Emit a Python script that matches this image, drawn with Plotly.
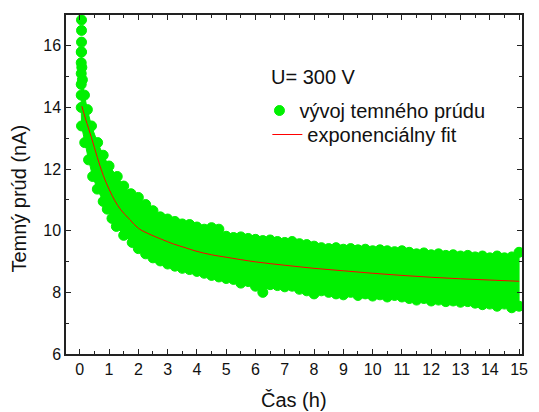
import plotly.graph_objects as go

# --- data ---
# upper / right edge of the measured point cloud (marker centres)
t_upper = [0.06, 0.07, 0.09, 0.16, 0.26, 0.40, 0.61, 0.80, 1.00, 1.28, 1.50, 1.75,
           2.00, 2.25, 2.50, 2.75, 3.00, 3.25, 3.50, 3.75, 4.00, 4.25, 4.50, 4.75,
           5.00, 5.25, 5.50, 5.75, 6.00, 6.25, 6.50, 6.75, 7.00, 7.25, 7.50, 7.75,
           8.00, 8.25, 8.50, 8.75, 9.00, 9.25, 9.50, 9.75, 10.00, 10.25, 10.50, 10.75,
           11.00, 11.25, 11.50, 11.75, 12.00, 12.25, 12.50, 12.75, 13.00, 13.25, 13.50,
           13.75, 14.00, 14.25, 14.50, 14.75, 15.00]
i_upper = [15.80, 15.30, 14.90, 14.40, 13.93, 13.40, 12.86, 12.45, 12.10, 11.76, 11.45, 11.20,
           11.08, 10.85, 10.65, 10.45, 10.38, 10.30, 10.22, 10.20, 10.12, 10.05, 10.10, 10.05,
           9.82, 9.78, 9.80, 9.75, 9.72, 9.68, 9.70, 9.65, 9.62, 9.65, 9.58, 9.55,
           9.50, 9.45, 9.42, 9.45, 9.40, 9.42, 9.38, 9.40, 9.35, 9.38, 9.35, 9.32,
           9.35, 9.30, 9.25, 9.28, 9.22, 9.25, 9.20, 9.22, 9.18, 9.20, 9.15,
           9.18, 9.12, 9.18, 9.12, 9.15, 9.30]

# lower / left edge of the measured point cloud (marker centres)
t_lower = [0.05, 0.05, 0.05, 0.05, 0.05, 0.05, 0.06, 0.17, 0.30, 0.44, 0.60, 0.80, 0.94,
           1.10, 1.25, 1.50, 1.79,
           2.00, 2.25, 2.50, 2.75, 3.00, 3.25, 3.50, 3.75, 4.00, 4.25, 4.50, 4.75,
           5.00, 5.25, 5.50, 5.75, 6.00, 6.25, 6.50, 6.75, 7.00, 7.25, 7.50, 7.75,
           8.00, 8.25, 8.50, 8.75, 9.00, 9.25, 9.50, 9.75, 10.00, 10.25, 10.50, 10.75,
           11.00, 11.25, 11.50, 11.75, 12.00, 12.25, 12.50, 12.75, 13.00, 13.25, 13.50,
           13.75, 14.00, 14.25, 14.50, 14.75, 15.00]
i_lower = [15.80, 15.45, 15.10, 14.75, 14.40, 14.00, 13.40, 12.86, 12.30, 11.76, 11.35, 10.95, 10.70,
           10.40, 10.14, 9.85, 9.62,
           9.42, 9.25, 9.12, 9.02, 8.92, 8.85, 8.78, 8.74, 8.68, 8.62, 8.55, 8.50,
           8.45, 8.42, 8.30, 8.35, 8.20, 8.00, 8.25, 8.22, 8.18, 8.20, 8.10, 8.05,
           7.95, 8.05, 8.00, 7.95, 7.92, 8.00, 7.90, 7.95, 7.88, 7.92, 7.85, 7.90,
           7.85, 7.80, 7.75, 7.80, 7.72, 7.75, 7.70, 7.72, 7.68, 7.70, 7.65,
           7.60, 7.62, 7.55, 7.62, 7.50, 7.55]

# isolated early points at the very start
t_outlier = [0.06, 0.06, 0.06]
i_outlier = [16.84, 16.50, 16.12]

# exponential fit curve
t_fit = [0.07, 0.2, 0.4, 0.6, 0.8, 1.0, 1.2, 1.4, 1.7, 2.0, 2.4, 2.8, 3.2, 3.6,
         4.0, 4.5, 5.0, 6.0, 7.0, 8.0, 9.0, 10.0, 11.0, 12.0, 13.0, 14.0, 15.0]
i_fit = [14.04, 13.62, 13.02, 12.38, 11.80, 11.35, 10.97, 10.68, 10.37, 10.08, 9.88,
         9.72, 9.57, 9.45, 9.33, 9.22, 9.14, 8.99, 8.88, 8.78, 8.70, 8.62, 8.55,
         8.49, 8.44, 8.40, 8.36]

x_ticks = list(range(0, 16))
y_ticks = [6, 8, 10, 12, 14, 16]

GREEN = "#00f000"
FONT = "Liberation Sans, Arial, sans-serif"
AXC = "#222222"
MSIZE = 10

fig = go.Figure()

# filled body of the dense point cloud
fig.add_trace(go.Scatter(
    x=t_upper + t_lower[::-1], y=i_upper + i_lower[::-1],
    mode="lines", fill="toself", fillcolor=GREEN,
    line=dict(width=1, color=GREEN), showlegend=False, hoverinfo="skip"))

mk = dict(color=GREEN, size=MSIZE, opacity=1, line=dict(width=1, color=GREEN))
fig.add_trace(go.Scatter(x=t_lower, y=i_lower, mode="markers", marker=mk,
                         showlegend=False, hoverinfo="skip"))
fig.add_trace(go.Scatter(x=t_outlier, y=i_outlier, mode="markers", marker=mk,
                         showlegend=False, hoverinfo="skip"))
fig.add_trace(go.Scatter(x=t_upper, y=i_upper, mode="markers", marker=mk,
                         name="vývoj temného prúdu", legend="legend",
                         hoverinfo="skip"))

fig.add_trace(go.Scatter(
    x=t_fit, y=i_fit, mode="lines", name="exponenciálny fit", legend="legend2",
    line=dict(color="#ff0000", width=1, shape="spline"),
    hoverinfo="skip"))

axis_common = dict(
    showline=True, linecolor=AXC, linewidth=1.5, mirror="ticks",
    ticks="inside", ticklen=5, tickwidth=1, tickcolor=AXC,
    showgrid=False, zeroline=False,
    tickfont=dict(family=FONT, size=16, color="#111"),
)

def px_x(p):
    return (p - 66) / 462

def px_y(p):
    return (354 - p) / 339

fig.update_layout(
    width=539, height=412,
    margin=dict(l=66, r=11, t=15, b=58),
    paper_bgcolor="white", plot_bgcolor="white",
    font=dict(family=FONT, color="#111"),
    xaxis=dict(range=[-0.47, 15.1], tickmode="array", tickvals=x_ticks,
               minor=dict(ticks="inside", ticklen=3, dtick=0.5, tick0=0,
                          tickcolor=AXC, showgrid=False),
               **axis_common),
    yaxis=dict(range=[6, 17.0], tickmode="array", tickvals=y_ticks,
               minor=dict(ticks="inside", ticklen=3, dtick=1, tick0=0,
                          tickcolor=AXC, showgrid=False),
               **axis_common),
    legend=dict(x=px_x(262), y=px_y(91), xanchor="left", yanchor="top",
                bgcolor="rgba(0,0,0,0)", font=dict(family=FONT, size=20),
                itemsizing="trace"),
    legend2=dict(x=px_x(270), y=px_y(115), xanchor="left", yanchor="top",
                 bgcolor="rgba(0,0,0,0)", font=dict(family=FONT, size=20)),
    annotations=[
        dict(text="U= 300 V", xref="paper", yref="paper",
             x=px_x(272), y=px_y(77), xanchor="left", yanchor="middle",
             showarrow=False, font=dict(family=FONT, size=20, color="#111")),
        dict(text="Čas (h)", xref="paper", yref="paper",
             x=px_x(297), y=px_y(400), xanchor="center", yanchor="middle",
             showarrow=False, font=dict(family=FONT, size=20, color="#111")),
        dict(text="Temný prúd (nA)", xref="paper", yref="paper", textangle=-90,
             x=px_x(18), y=px_y(199), xanchor="center", yanchor="middle",
             showarrow=False, font=dict(family=FONT, size=20, color="#111")),
    ],
)

fig.write_html("out.html")
